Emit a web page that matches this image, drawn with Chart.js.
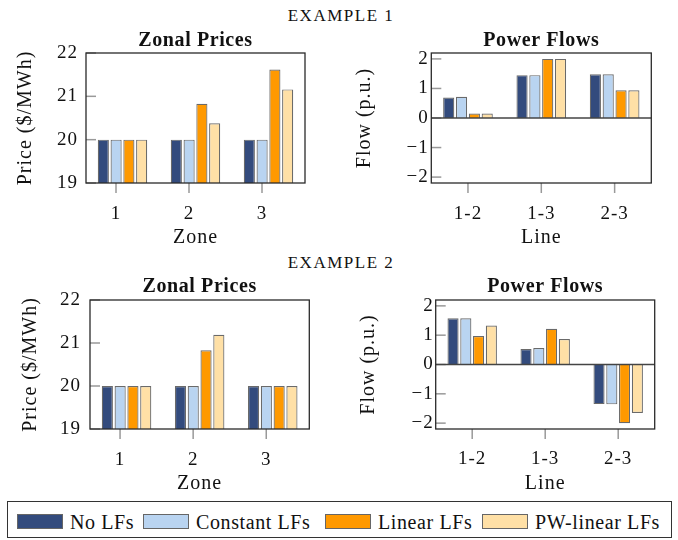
<!DOCTYPE html>
<html>
<head>
<meta charset="utf-8">
<script src="https://cdn.jsdelivr.net/npm/chart.js@4/dist/chart.umd.min.js"></script>
<style>
  body { margin: 0; background: #fff; width: 678px; height: 540px; position: relative; overflow: hidden;
         font-family: "Liberation Serif", serif; color: #111; }
  canvas { position: absolute; }
  .heading { position: absolute; left: 0; width: 678px; text-align: center; font-size: 17px; line-height: 17px;
             letter-spacing: 1.5px; padding-left: 4px; box-sizing: border-box; }
  #legend { position: absolute; left: 7px; top: 501px; width: 665px; height: 37px; box-sizing: border-box;
            border: 1px solid #333; }
  .sw { position: absolute; top: 12px; width: 46px; height: 15px; box-sizing: border-box; border: 1px solid #666; }
  .lt { position: absolute; top: 10px; font-size: 20px; line-height: 20px; letter-spacing: 0.6px; white-space: nowrap; }
</style>
</head>
<body>
<div class="heading" style="top:7px">EXAMPLE 1</div>
<div class="heading" style="top:254px">EXAMPLE 2</div>
<canvas id="c1" width="338" height="224" style="left:0;top:26px"></canvas>
<canvas id="c2" width="340" height="224" style="left:338px;top:26px"></canvas>
<canvas id="c3" width="338" height="224" style="left:0;top:272px"></canvas>
<canvas id="c4" width="340" height="224" style="left:338px;top:272px"></canvas>
<div id="legend"></div>
<script>
// categories and series
const zones = ["1", "2", "3"];
const lines = ["1-2", "1-3", "2-3"];
const seriesNames = ["No LFs", "Constant LFs", "Linear LFs", "PW-linear LFs"];
const seriesColors = ["#334b7d", "#b9d4f1", "#ff9900", "#ffe0a6"];

// tick labels
const priceTicks = [19, 20, 21, 22];
const flowTicks = [-2, -1, 0, 1, 2];

// example 1
const ex1PriceNo = [20, 20, 20];
const ex1PriceConst = [20, 20, 20];
const ex1PriceLin = [20, 20.83, 21.62];
const ex1PricePw = [20, 20.38, 21.16];
const ex1FlowNo = [0.69, 1.45, 1.48];
const ex1FlowConst = [0.72, 1.45, 1.48];
const ex1FlowLin = [0.15, 2.0, 0.94];
const ex1FlowPw = [0.15, 2.0, 0.94];

// example 2
const ex2PriceNo = [20, 20, 20];
const ex2PriceConst = [20, 20, 20];
const ex2PriceLin = [20, 20.83, 20];
const ex2PricePw = [20, 21.19, 20];
const ex2FlowNo = [1.58, 0.53, -1.35];
const ex2FlowConst = [1.58, 0.56, -1.36];
const ex2FlowLin = [0.97, 1.22, -2.0];
const ex2FlowPw = [1.33, 0.87, -1.65];

Chart.defaults.font.family = '"Liberation Serif", serif';
Chart.defaults.color = "#111";

const fmt = (v) => (v < 0 ? "\u2212" + Math.abs(v) : String(v));

// frame, tick marks, zero line and title drawn like pgfplots
const framePlugin = {
  id: "frame",
  beforeDraw(chart) {
    chart.ctx.letterSpacing = "1px";
  },
  beforeDatasetsDraw(chart) {
    const { ctx, chartArea: a, scales: { y } } = chart;
    ctx.save();
    ctx.strokeStyle = "#999";
    ctx.lineWidth = 1.5;
    y.ticks.forEach((t) => {
      const py = y.getPixelForValue(t.value);
      ctx.beginPath();
      ctx.moveTo(a.left, py);
      ctx.lineTo(a.left + 10, py);
      ctx.stroke();
    });
    ctx.restore();
  },
  afterDraw(chart, args, o) {
    const { ctx, chartArea: a, scales: { x, y } } = chart;
    ctx.save();
    ctx.strokeStyle = "#999";
    ctx.lineWidth = 1.5;
    x.ticks.forEach((t, i) => {
      const px = x.getPixelForTick(i) + o.shift;
      ctx.beginPath();
      ctx.moveTo(px, a.bottom);
      ctx.lineTo(px, a.bottom + 10);
      ctx.stroke();
    });
    if (o.zero) {
      const py = y.getPixelForValue(0);
      ctx.strokeStyle = "#444";
      ctx.lineWidth = 1.3;
      ctx.beginPath();
      ctx.moveTo(a.left, py);
      ctx.lineTo(a.right, py);
      ctx.stroke();
    }
    ctx.strokeStyle = "#2a2a2a";
    ctx.lineWidth = 1.3;
    ctx.strokeRect(a.left, a.top, a.right - a.left, a.bottom - a.top);
    ctx.fillStyle = "#111";
    ctx.letterSpacing = "0.6px";
    ctx.font = 'bold 20px "Liberation Serif", serif';
    ctx.textAlign = "center";
    ctx.textBaseline = "alphabetic";
    ctx.fillText(o.title, (a.left + a.right) / 2, a.top - o.titleGap);
    ctx.restore();
  },
};

function makeChart(id, labels, values, L) {
  const datasets = values.map((vals, i) => ({
    label: seriesNames[i],
    data: vals,
    backgroundColor: seriesColors[i],
    borderColor: "#6a6a6a",
    borderWidth: 1.2,
    categoryPercentage: 0.7,
    barPercentage: 0.87,
  }));
  return new Chart(document.getElementById(id), {
    type: "bar",
    data: { labels: labels, datasets: datasets },
    plugins: [framePlugin],
    options: {
      responsive: false,
      animation: false,
      devicePixelRatio: 1,
      layout: { padding: { top: L.padTop, right: L.padRight, left: 0, bottom: 0 } },
      plugins: {
        legend: { display: false },
        tooltip: { enabled: false },
        frame: { title: L.title, titleGap: L.titleGap, shift: L.shift, zero: L.zero },
      },
      scales: {
        x: {
          grid: { display: false, drawTicks: false },
          border: { display: false },
          ticks: { font: { size: 19 }, padding: L.xTickPad, labelOffset: L.shift, maxRotation: 0 },
          title: { display: true, text: L.xTitle, font: { size: 20 }, padding: { top: 0, bottom: 0 } },
          afterFit: (s) => { s.height = L.xHeight; },
        },
        y: {
          min: L.min,
          max: L.max,
          grid: { display: false, drawTicks: false },
          border: { display: false },
          ticks: { font: { size: 19 }, padding: L.yTickPad, callback: (v) => fmt(v) },
          afterBuildTicks: (s) => { s.ticks = L.ticks.map((v) => ({ value: v })); },
          title: { display: true, text: L.yTitle, font: { size: 20 }, padding: { top: L.yTitlePad, bottom: 0 } },
          afterFit: (s) => { s.width = L.yWidth; },
        },
      },
    },
  });
}

makeChart("c1", zones, [ex1PriceNo, ex1PriceConst, ex1PriceLin, ex1PricePw], {
  title: "Zonal Prices", titleGap: 7, shift: -6.5, zero: false,
  padTop: 27, padRight: 33, yWidth: 86, yTitlePad: 14, yTickPad: 8, xHeight: 67, xTickPad: 20,
  min: 19, max: 22, ticks: priceTicks, xTitle: "Zone", yTitle: "Price ($/MWh)",
});
makeChart("c2", lines, [ex1FlowNo, ex1FlowConst, ex1FlowLin, ex1FlowPw], {
  title: "Power Flows", titleGap: 7, shift: 0, zero: true,
  padTop: 27, padRight: 26.7, yWidth: 93.3, yTitlePad: 14.7, yTickPad: 2.5, xHeight: 67, xTickPad: 20,
  min: -2.2, max: 2.2, ticks: flowTicks, xTitle: "Line", yTitle: "Flow (p.u.)",
});
makeChart("c3", zones, [ex2PriceNo, ex2PriceConst, ex2PriceLin, ex2PricePw], {
  title: "Zonal Prices", titleGap: 8, shift: -6.5, zero: false,
  padTop: 28, padRight: 28.7, yWidth: 90, yTitlePad: 18.5, yTickPad: 9, xHeight: 67, xTickPad: 20,
  min: 19, max: 22, ticks: priceTicks, xTitle: "Zone", yTitle: "Price ($/MWh)",
});
makeChart("c4", lines, [ex2FlowNo, ex2FlowConst, ex2FlowLin, ex2FlowPw], {
  title: "Power Flows", titleGap: 8, shift: 0, zero: true,
  padTop: 28, padRight: 23.3, yWidth: 97.7, yTitlePad: 18.8, yTickPad: 2, xHeight: 67, xTickPad: 19,
  min: -2.2, max: 2.2, ticks: flowTicks, xTitle: "Line", yTitle: "Flow (p.u.)",
});

// shared legend
const legendLeft = [9, 135, 317, 474];
const legend = document.getElementById("legend");
seriesNames.forEach((name, i) => {
  const sw = document.createElement("div");
  sw.className = "sw";
  sw.style.left = legendLeft[i] + "px";
  sw.style.background = seriesColors[i];
  legend.appendChild(sw);
  const lt = document.createElement("div");
  lt.className = "lt";
  lt.style.left = legendLeft[i] + 53 + "px";
  lt.textContent = name;
  legend.appendChild(lt);
});
</script>
</body>
</html>
